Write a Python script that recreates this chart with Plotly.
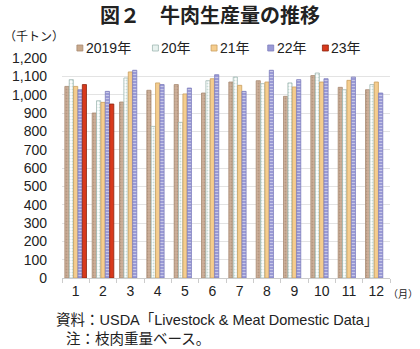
import plotly.graph_objects as go

months = ["1", "2", "3", "4", "5", "6", "7", "8", "9", "10", "11", "12"]
y2019 = [1045, 900, 960, 1024, 1055, 1009, 1069, 1076, 991, 1104, 1040, 1027]
y2020 = [1082, 967, 1091, 827, 849, 1076, 1096, 1060, 1064, 1118, 1027, 1055]
y2021 = [1045, 958, 1124, 1064, 1004, 1087, 1051, 1069, 1042, 1069, 1078, 1069]
y2022 = [1027, 1018, 1133, 1055, 1036, 1109, 1018, 1133, 1082, 1087, 1096, 1009]
y2023 = [1055, 949, None, None, None, None, None, None, None, None, None, None]
names = ["2019年", "20年", "21年", "22年", "23年"]
series = [y2019, y2020, y2021, y2022, y2023]

styles = [
    dict(color="#cdb09a", line=dict(color="#a88a72", width=0.8),
         pattern=dict(shape=".", fgcolor="#9c7e66", size=3, solidity=0.3)),
    dict(color="#ffffff", line=dict(color="#9fb7b2", width=0.8),
         pattern=dict(shape=".", fgcolor="#8fbcb0", size=3, solidity=0.3)),
    dict(color="#f5cd8e", line=dict(color="#c9a060", width=0.8)),
    dict(color="#a6a6dc", line=dict(color="#7e7ebc", width=0.8),
         pattern=dict(shape="-", fgcolor="#ffffff", bgcolor="#9a9ad6", size=3, solidity=0.3)),
    dict(color="#d8391c", line=dict(color="#8c2410", width=0.8)),
]
legend_fill = ["#c9a98c", "#e8f2ef", "#f5cd8e", "#9a9ad6", "#d8391c"]
legend_line = ["#a88a72", "#9fb7b2", "#c9a060", "#7e7ebc", "#8c2410"]

FONT = "Liberation Sans, Arial, Noto Sans CJK JP"

# layout geometry (pixels)
W, H = 420, 349
L, R, T, B = 60, 30, 58, 71
PW, PH = W - L - R, H - T - B


def px(x):
    return (x - L) / PW


def py(y):
    return (H - B - y) / PH


fig = go.Figure()
for name, vals, st in zip(names, series, styles):
    fig.add_trace(go.Bar(x=months, y=vals, name=name, marker=st))

fig.update_layout(
    width=W, height=H,
    margin=dict(l=L, r=R, t=T, b=B),
    paper_bgcolor="white", plot_bgcolor="white",
    barmode="group", bargap=0.2, bargroupgap=0.05,
    font=dict(family=FONT, size=14, color="#222"),
    showlegend=False,
    title=dict(text="<b>図２　牛肉生産量の推移</b>", x=0.5, xanchor="center",
               y=1 - 16 / H, yanchor="middle", yref="container",
               font=dict(size=20, family="Noto Sans CJK JP", color="#222")),
)
fig.update_yaxes(range=[0, 1200], dtick=100, tickformat=",", showgrid=True,
                 gridcolor="#e3e3e3", gridwidth=1, zeroline=False, showline=False,
                 ticks="", ticklabelstandoff=14, tickfont=dict(size=14, family=FONT))
fig.update_xaxes(showline=True, linecolor="#cccccc", ticks="outside", tickson="boundaries",
                 ticklen=4, tickcolor="#cccccc", showgrid=False, tickfont=dict(size=14, family=FONT))

# manual legend in one row
leg_x = [75, 151, 210, 267, 322]
leg_y = 48
for lx, name, fc, lc in zip(leg_x, names, legend_fill, legend_line):
    fig.add_shape(type="rect", xref="paper", yref="paper",
                  x0=px(lx), x1=px(lx + 6), y0=py(leg_y + 3), y1=py(leg_y - 3),
                  fillcolor=fc, line=dict(color=lc, width=0.8))
    fig.add_annotation(text=name, xref="paper", yref="paper", x=px(lx + 7), y=py(leg_y),
                       xanchor="left", yanchor="middle", showarrow=False,
                       font=dict(size=14, family=FONT))

fig.add_annotation(text="（千トン）", xref="paper", yref="paper", x=px(0), y=py(35),
                   xanchor="left", yanchor="middle", showarrow=False,
                   font=dict(size=12, family="Noto Sans CJK JP"))
fig.add_annotation(text="（月）", xref="paper", yref="paper", x=px(386), y=py(293),
                   xanchor="left", yanchor="middle", showarrow=False,
                   font=dict(size=10, family="Noto Sans CJK JP"))
fig.add_annotation(text="資料：USDA「Livestock &amp; Meat Domestic Data」", xref="paper", yref="paper",
                   x=px(52), y=py(320), xanchor="left", yanchor="middle", showarrow=False,
                   font=dict(size=14.5, family=FONT))
fig.add_annotation(text="注：枝肉重量ベース。", xref="paper", yref="paper",
                   x=px(62), y=py(339), xanchor="left", yanchor="middle", showarrow=False,
                   font=dict(size=14.5, family=FONT))

fig.write_html("out.html")
